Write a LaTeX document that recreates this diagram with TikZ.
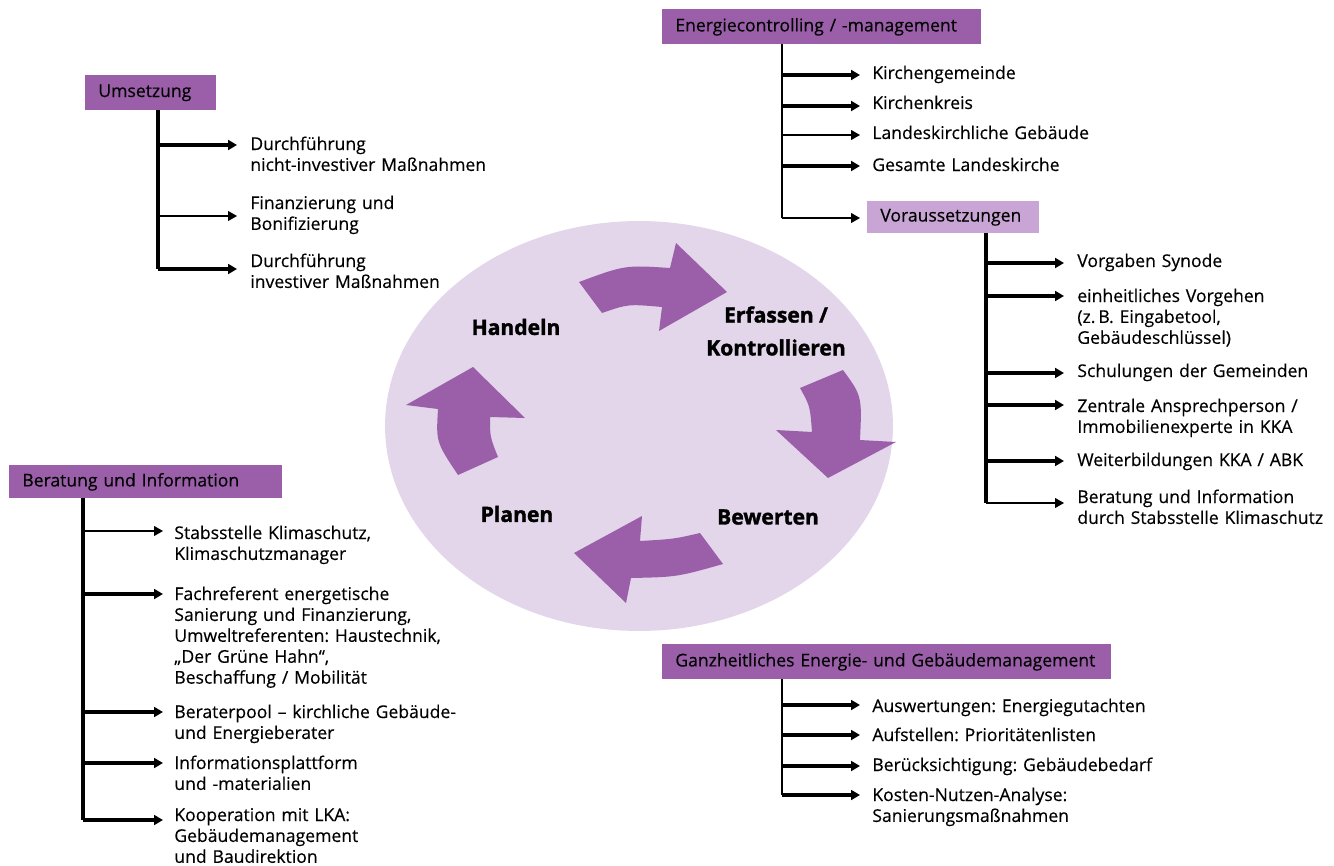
\documentclass[tikz,border=0pt]{standalone}
\usepackage{fontspec}
\setmainfont{Open Sans}[UprightFeatures={FakeBold=0.35}, BoldFeatures={FakeBold=1.6}]
\frenchspacing
\usetikzlibrary{arrows.meta,shapes.geometric}
\definecolor{cyclepurple}{RGB}{155,95,170}
\definecolor{lightpurple}{RGB}{200,165,212}
\definecolor{ringlilac}{RGB}{227,214,235}
\tikzset{
  headbox/.style = {fill=cyclepurple, anchor=north west, inner xsep=0.26cm, inner ysep=0pt, minimum height=0.7cm, align=left, font=\fontsize{10}{12}\selectfont},
  subbox/.style = {headbox, fill=lightpurple, minimum height=0.64cm},
  item/.style = {anchor=base west, inner sep=0pt, text width=6.5cm, align=left, yshift=-0.1cm, font=\fontsize{10}{11.9}\selectfont},
  stage/.style = {align=center, font=\fontsize{12}{18.7}\selectfont\bfseries},
  trunk/.style = {line width=2pt},
  thintrunk/.style = {line width=0.8pt},
  link/.style = {line width=2pt, -{Triangle[length=5pt,width=5.5pt]}},
  thinlink/.style = {line width=0.7pt, -{Triangle[length=5pt,width=5.5pt]}}
}
\begin{document}
\begin{tikzpicture}[x=0.02cm, y=-0.02cm]
  \useasboundingbox (0,0) rectangle (1334,865);

  \node[ellipse, fill=ringlilac, inner sep=0pt, minimum width=10.16cm, minimum height=8.2cm] (ring) at (639,426) {};
  \fill[cyclepurple] (579,282) .. controls (625,265) .. (670,268) -- (676,243) -- (727,292) -- (659,331) -- (662,307) .. controls (628,304) .. (602,313) -- cycle;
  \fill[cyclepurple] (800,388) -- (843,370) .. controls (862,396) .. (860,440) -- (896,442) -- (828,478) -- (776,430) -- (812,432) .. controls (810,406) .. (800,388) -- cycle;
  \fill[cyclepurple] (700,533) .. controls (674,539) .. (640,541) -- (642,516) -- (574,553) -- (626,603) -- (631,578) .. controls (677,577) .. (723,564) -- cycle;
  \fill[cyclepurple] (458,475) .. controls (436,442) .. (438,409) -- (406,405) -- (473,367) -- (525,418) -- (490,417) .. controls (490,437) .. (498,457) -- cycle;
  \node[stage] (handeln) at (516,327) {Handeln};
  \node[stage] (erfassen) at (776,331) {Erfassen /\\Kontrollieren};
  \node[stage] (bewerten) at (768,517) {Bewerten};
  \node[stage] (planen) at (517,514) {Planen};

  \node[headbox, text width=2.1cm] (umsetzung) at (85,75) {Umsetzung};
  \coordinate (u0) at (158,110);
  \coordinate (u1) at (237,145);
  \coordinate (u2) at (237,216);
  \coordinate (u3) at (237,269);
  \draw[trunk] (u0) -- (u0 |- u3);
  \draw[link] (u0 |- u1) -- (u1);
  \draw[thinlink] (u0 |- u2) -- (u2);
  \draw[link] (u0 |- u3) -- (u3);
  \node[item] (u1t) at (250,145) {Durchführung\\nicht-investiver Maßnahmen};
  \node[item] (u2t) at (250,204) {Finanzierung und\\Bonifizierung};
  \node[item] (u3t) at (250,262) {Durchführung\\investiver Maßnahmen};

  \node[headbox, text width=5.86cm] (energie) at (662,9) {Energiecontrolling / -management};
  \coordinate (e0) at (782,44);
  \coordinate (e1) at (860,75);
  \coordinate (e2) at (860,106);
  \coordinate (e3) at (860,135);
  \coordinate (e4) at (860,166);
  \coordinate (e5) at (860,218);
  \draw[thintrunk] (e0) -- (e0 |- e5);
  \draw[link] (e0 |- e1) -- (e1);
  \draw[link] (e0 |- e2) -- (e2);
  \draw[thinlink] (e0 |- e3) -- (e3);
  \draw[link] (e0 |- e4) -- (e4);
  \draw[thinlink] (e0 |- e5) -- (e5);
  \node[item] (e1t) at (872,74) {Kirchengemeinde};
  \node[item] (e2t) at (872,104) {Kirchenkreis};
  \node[item] (e3t) at (872,134) {Landeskirchliche Gebäude};
  \node[item] (e4t) at (872,166) {Gesamte Landeskirche};

  \node[subbox, text width=2.92cm] (voraus) at (867,201) {Voraussetzungen};
  \coordinate (v0) at (986,233);
  \coordinate (v1) at (1064,263);
  \coordinate (v2) at (1064,296);
  \coordinate (v3) at (1064,373);
  \coordinate (v4) at (1064,405);
  \coordinate (v5) at (1064,461);
  \coordinate (v6) at (1064,503);
  \draw[trunk] (v0) -- (v0 |- v6);
  \draw[link] (v0 |- v1) -- (v1);
  \draw[link] (v0 |- v2) -- (v2);
  \draw[link] (v0 |- v3) -- (v3);
  \draw[link] (v0 |- v4) -- (v4);
  \draw[link] (v0 |- v5) -- (v5);
  \draw[thinlink] (v0 |- v6) -- (v6);
  \node[item] (v1t) at (1077,262) {Vorgaben Synode};
  \node[item] (v2t) at (1077,297) {einheitliches Vorgehen\\(z.\,B. Eingabetool,\\Gebäudeschlüssel)};
  \node[item] (v3t) at (1077,372) {Schulungen der Gemeinden};
  \node[item] (v4t) at (1077,407) {Zentrale Ansprechperson /\\Immobilienexperte in KKA};
  \node[item] (v5t) at (1077,461) {Weiterbildungen KKA / ABK};
  \node[item] (v6t) at (1077,498) {Beratung und Information\\durch Stabsstelle Klimaschutz};

  \node[headbox, text width=4.94cm, minimum height=0.66cm] (beratung) at (9,465) {Beratung und Information};
  \coordinate (b0) at (83,498);
  \coordinate (b1) at (163,531);
  \coordinate (b2) at (163,594);
  \coordinate (b3) at (163,712);
  \coordinate (b4) at (163,763);
  \coordinate (b5) at (163,820);
  \draw[trunk] (b0) -- (b0 |- b5);
  \draw[thinlink] (b0 |- b1) -- (b1);
  \draw[link] (b0 |- b2) -- (b2);
  \draw[link] (b0 |- b3) -- (b3);
  \draw[link] (b0 |- b4) -- (b4);
  \draw[link] (b0 |- b5) -- (b5);
  \node[item] (b1t) at (174,534) {Stabsstelle Klimaschutz,\\Klimaschutzmanager};
  \node[item] (b2t) at (174,595) {Fachreferent energetische\\Sanierung und Finanzierung,\\Umweltreferenten: Haustechnik,\\„Der Grüne Hahn“,\\Beschaffung / Mobilität};
  \node[item] (b3t) at (174,713) {Beraterpool – kirchliche Gebäude-\\und Energieberater};
  \node[item] (b4t) at (174,764) {Informationsplattform\\und -materialien};
  \node[item] (b5t) at (174,816) {Kooperation mit LKA:\\Gebäudemanagement\\und Baudirektion};

  \node[headbox, text width=8.46cm] (ganz) at (662,644) {Ganzheitliches Energie- und Gebäudemanagement};
  \coordinate (g0) at (782,679);
  \coordinate (g1) at (860,705);
  \coordinate (g2) at (860,735);
  \coordinate (g3) at (860,766);
  \coordinate (g4) at (860,795);
  \draw[thintrunk] (g0) -- (g0 |- g4);
  \draw[link] (g0 |- g1) -- (g1);
  \draw[link] (g0 |- g2) -- (g2);
  \draw[link] (g0 |- g3) -- (g3);
  \draw[link] (g0 |- g4) -- (g4);
  \node[item] (g1t) at (872,707) {Auswertungen: Energiegutachten};
  \node[item] (g2t) at (872,736) {Aufstellen: Prioritätenlisten};
  \node[item] (g3t) at (872,766) {Berücksichtigung: Gebäudebedarf};
  \node[item] (g4t) at (872,796) {Kosten-Nutzen-Analyse:\\Sanierungsmaßnahmen};
\end{tikzpicture}
\end{document}
